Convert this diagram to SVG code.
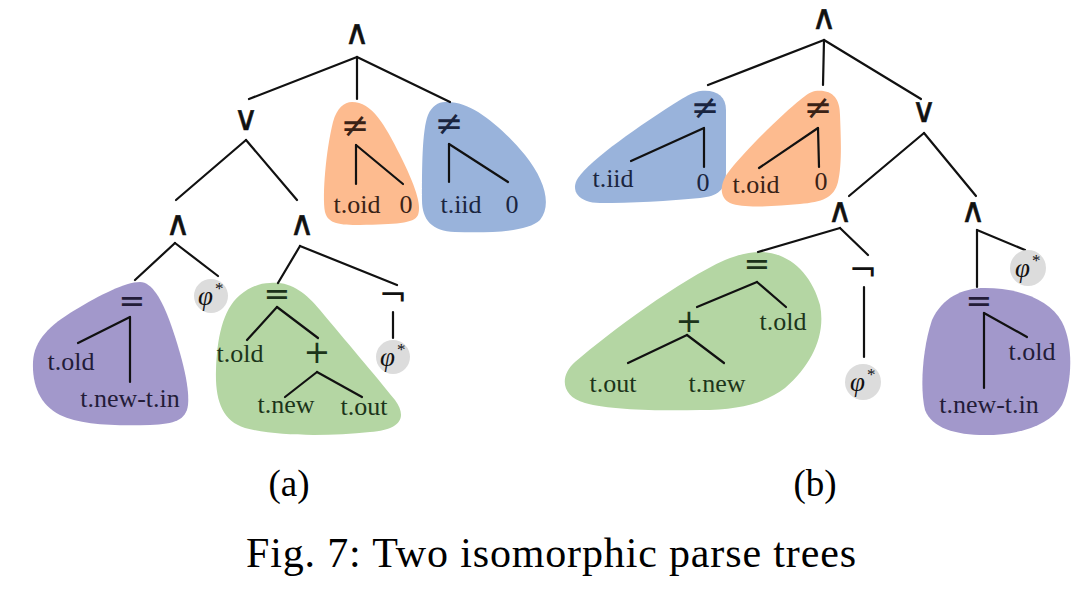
<svg xmlns="http://www.w3.org/2000/svg" width="1092" height="594" viewBox="0 0 1092 594">
<style>
.op{font-family:"DejaVu Sans",sans-serif;font-size:32px;text-anchor:middle;fill:#111}
.lg{font-size:34px;stroke:#111;stroke-width:0.5}
.ne{font-size:34px}
.lf{font-family:"Liberation Serif","Times New Roman",serif;font-size:26px;text-anchor:middle;fill:#111}
.phi{font-family:"Liberation Serif","Times New Roman",serif;font-size:27px;font-style:italic;fill:#111}
.st{font-family:"Liberation Serif","Times New Roman",serif;font-size:17px;fill:#111}
.cap{font-family:"Liberation Serif","Times New Roman",serif;fill:#000;text-anchor:middle}
.orange{fill:#fdbb8f}.blue{fill:#99b3db}.purple{fill:#a298cb}.green{fill:#b4d6a3}.grey{fill:#dcdcdc}
.tp{fill:#231c38}.tg{fill:#1c341a}.to{fill:#3a2216}.tb{fill:#1a2540}
.edges line{stroke:#111;stroke-width:2.2;stroke-linecap:round}
</style>
<rect width="1092" height="594" fill="#fff"/>

<!-- regions (a) -->
<g id="region-a-orange"><path class="orange" d="M352 102 C372 102 385 125 400 155 C415 185 422 205 418 215 C414 224 395 224 360 225 C340 225 328 224 325 212 C322 195 326 150 333 122 C337 108 344 102 352 102 Z"/></g>
<g id="region-a-blue"><path class="blue" d="M445 102 C470 100 500 125 525 155 C545 180 552 205 540 220 C528 232 490 233 455 232 C432 231 422 220 422 200 C422 170 422 130 428 115 C432 106 438 102 445 102 Z"/></g>
<g id="region-a-purple"><path class="purple" d="M140 282 C152 282 162 300 170 322 C180 350 190 385 188 405 C186 420 175 424 150 425 C115 426 80 425 60 415 C40 405 32 385 33 362 C34 340 50 325 75 310 C100 295 125 282 140 282 Z"/></g>
<g id="region-a-green"><path class="green" d="M270 283 C290 281 305 292 320 310 C345 340 375 375 395 400 C408 418 400 430 370 432 C330 436 280 437 245 428 C222 421 215 400 216 370 C217 340 222 310 240 295 C250 287 260 283 270 283 Z"/></g>

<!-- regions (b) -->
<g id="region-b-blue"><path class="blue" d="M700 91 C715 89 726 95 726 110 L726 172 C726 190 718 196 700 198 C670 201 630 203 600 203 C578 203 570 190 578 178 C590 160 640 125 680 100 C688 95 694 92 700 91 Z"/></g>
<g id="region-b-orange"><path class="orange" d="M815 91 C832 89 840 98 840 115 C841 140 842 165 838 182 C834 198 822 202 800 204 C775 206 745 209 730 203 C718 197 720 182 730 170 C750 145 785 112 800 100 C806 95 810 92 815 91 Z"/></g>
<g id="region-b-green"><path class="green" d="M760 252 C790 252 812 275 820 305 C826 335 812 365 785 388 C765 403 740 410 700 410 C660 411 610 410 585 403 C560 396 560 375 575 362 C610 332 680 280 725 260 C740 254 750 252 760 252 Z"/></g>
<g id="region-b-purple"><path class="purple" d="M985 288 C1020 288 1050 300 1062 322 C1074 345 1072 385 1062 405 C1050 425 1020 435 985 435 C955 435 932 428 925 410 C920 390 922 350 932 320 C942 298 962 288 985 288 Z"/></g>

<!-- connectors -->
<g id="connectors" class="edges">
  <!-- tree (a) -->
  <line x1="357" y1="57" x2="249" y2="99"/>
  <line x1="357" y1="57" x2="357" y2="99"/>
  <line x1="357" y1="57" x2="450" y2="102"/>
  <line x1="246" y1="140" x2="176" y2="200"/>
  <line x1="246" y1="140" x2="297" y2="200"/>
  <line x1="175" y1="243" x2="135" y2="280"/>
  <line x1="175" y1="243" x2="218" y2="276"/>
  <line x1="300" y1="246" x2="278" y2="283"/>
  <line x1="300" y1="246" x2="397" y2="285"/>
  <line x1="356" y1="145" x2="356" y2="184"/>
  <line x1="356" y1="145" x2="403" y2="184"/>
  <line x1="449" y1="144" x2="449" y2="182"/>
  <line x1="449" y1="144" x2="508" y2="182"/>
  <line x1="130" y1="317" x2="130" y2="382"/>
  <line x1="130" y1="317" x2="78" y2="343"/>
  <line x1="277" y1="307" x2="247" y2="340"/>
  <line x1="277" y1="307" x2="318" y2="338"/>
  <line x1="317" y1="372" x2="285" y2="397"/>
  <line x1="317" y1="372" x2="362" y2="397"/>
  <line x1="393" y1="312" x2="393" y2="338"/>
  <!-- tree (b) -->
  <line x1="824" y1="40" x2="708" y2="85"/>
  <line x1="824" y1="40" x2="823" y2="85"/>
  <line x1="824" y1="40" x2="921" y2="99"/>
  <line x1="704" y1="128" x2="704" y2="167"/>
  <line x1="704" y1="128" x2="631" y2="161"/>
  <line x1="818" y1="128" x2="819" y2="167"/>
  <line x1="818" y1="128" x2="759" y2="168"/>
  <line x1="924" y1="133" x2="849" y2="196"/>
  <line x1="924" y1="133" x2="976" y2="196"/>
  <line x1="840" y1="228" x2="758" y2="252"/>
  <line x1="840" y1="228" x2="868" y2="255"/>
  <line x1="757" y1="282" x2="697" y2="307"/>
  <line x1="757" y1="282" x2="786" y2="307"/>
  <line x1="687" y1="335" x2="628" y2="363"/>
  <line x1="687" y1="335" x2="724" y2="363"/>
  <line x1="864" y1="287" x2="864" y2="357"/>
  <line x1="977" y1="230" x2="977" y2="287"/>
  <line x1="977" y1="230" x2="1025" y2="250"/>
  <line x1="984" y1="313" x2="984" y2="388"/>
  <line x1="984" y1="313" x2="1027" y2="337"/>
</g>

<!-- nodes (a) -->
<g id="a-and-root"><text class="op lg" x="357" y="44">∧</text></g>
<g id="a-or"><text class="op lg" x="246" y="130">∨</text></g>
<g id="a-and-left"><text class="op lg" x="178" y="235">∧</text></g>
<g id="a-and-right"><text class="op lg" x="302" y="235">∧</text></g>
<g id="a-neq-oid"><text class="op ne to" x="355" y="137">≠</text></g>
<g id="a-oid"><text class="lf to" x="357" y="213">t.oid</text></g>
<g id="a-oid-0"><text class="lf to" x="406" y="213">0</text></g>
<g id="a-neq-iid"><text class="op ne tb" x="449" y="135">≠</text></g>
<g id="a-iid"><text class="lf tb" x="461" y="213">t.iid</text></g>
<g id="a-iid-0"><text class="lf tb" x="512" y="213">0</text></g>
<g id="a-eq-1"><text class="op tp" x="132" y="312">=</text></g>
<g id="a-old-1"><text class="lf tp" x="71" y="370">t.old</text></g>
<g id="a-newin"><text class="lf tp" x="130" y="407">t.new-t.in</text></g>
<g id="a-phi-1"><circle class="grey" cx="211" cy="296" r="17"/><text class="phi" x="198" y="305">φ</text><text class="st" x="215" y="294">*</text></g>
<g id="a-eq-2"><text class="op tg" x="277" y="305">=</text></g>
<g id="a-old-2"><text class="lf tg" x="240" y="362">t.old</text></g>
<g id="a-plus"><text class="op tg" x="317" y="363">+</text></g>
<g id="a-new"><text class="lf tg" x="286" y="413">t.new</text></g>
<g id="a-out"><text class="lf tg" x="364" y="415">t.out</text></g>
<g id="a-not"><text class="op ne" x="393" y="306">¬</text></g>
<g id="a-phi-2"><circle class="grey" cx="393" cy="357" r="17"/><text class="phi" x="380" y="366">φ</text><text class="st" x="397" y="355">*</text></g>

<!-- nodes (b) -->
<g id="b-and-root"><text class="op lg" x="824" y="29">∧</text></g>
<g id="b-neq-iid"><text class="op ne tb" x="705" y="119">≠</text></g>
<g id="b-iid"><text class="lf tb" x="613" y="187">t.iid</text></g>
<g id="b-iid-0"><text class="lf tb" x="703" y="191">0</text></g>
<g id="b-neq-oid"><text class="op ne to" x="818" y="119">≠</text></g>
<g id="b-oid"><text class="lf to" x="756" y="193">t.oid</text></g>
<g id="b-oid-0"><text class="lf to" x="821" y="190">0</text></g>
<g id="b-or"><text class="op lg" x="924" y="122">∨</text></g>
<g id="b-and-left"><text class="op lg" x="840" y="222">∧</text></g>
<g id="b-and-right"><text class="op lg" x="973" y="222">∧</text></g>
<g id="b-eq-1"><text class="op tg" x="757" y="275">=</text></g>
<g id="b-plus"><text class="op tg" x="689" y="332">+</text></g>
<g id="b-old-1"><text class="lf tg" x="783" y="330">t.old</text></g>
<g id="b-out"><text class="lf tg" x="613" y="392">t.out</text></g>
<g id="b-new"><text class="lf tg" x="717" y="392">t.new</text></g>
<g id="b-not"><text class="op ne" x="863" y="281">¬</text></g>
<g id="b-phi-1"><circle class="grey" cx="863" cy="382" r="18"/><text class="phi" x="850" y="391">φ</text><text class="st" x="867" y="380">*</text></g>
<g id="b-phi-2"><circle class="grey" cx="1028" cy="268" r="18"/><text class="phi" x="1015" y="277">φ</text><text class="st" x="1032" y="266">*</text></g>
<g id="b-eq-2"><text class="op tp" x="979" y="312">=</text></g>
<g id="b-old-2"><text class="lf tp" x="1032" y="360">t.old</text></g>
<g id="b-newin"><text class="lf tp" x="989" y="413">t.new-t.in</text></g>

<!-- captions -->
<text class="cap" x="289" y="496" font-size="37">(a)</text>
<text class="cap" x="815" y="496" font-size="37">(b)</text>
<text class="cap" x="551" y="567" font-size="42" textLength="610" lengthAdjust="spacing">Fig. 7: Two isomorphic parse trees</text>
</svg>
